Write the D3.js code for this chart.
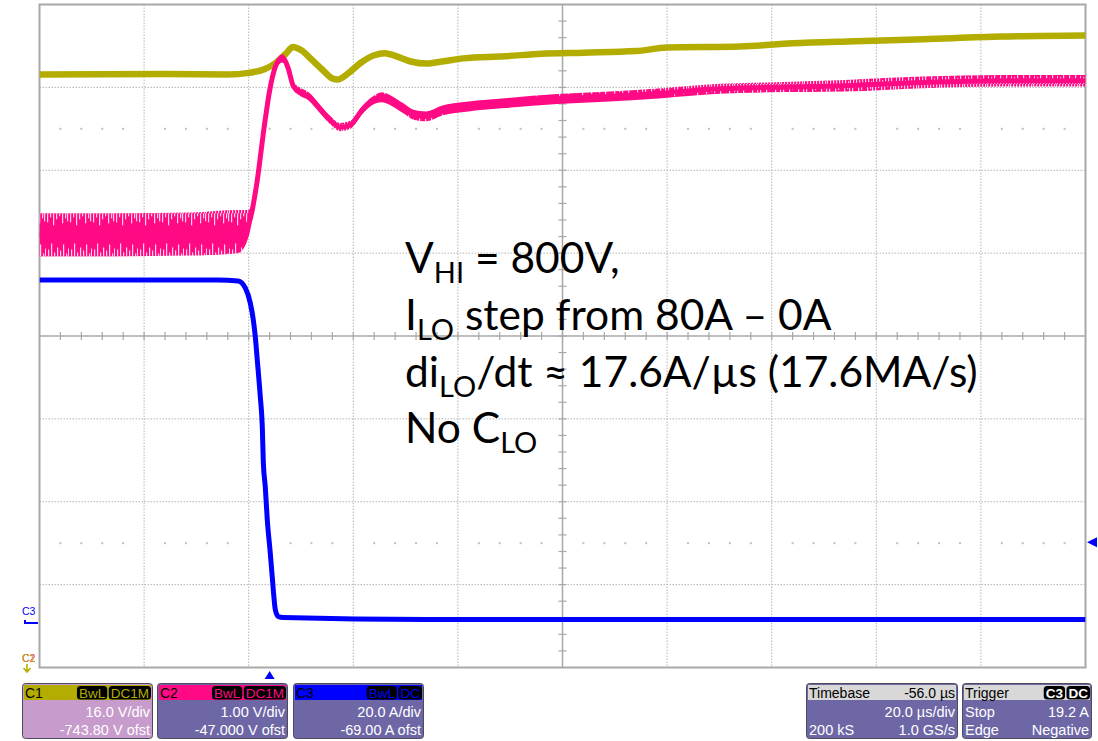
<!DOCTYPE html>
<html>
<head>
<meta charset="utf-8">
<script src="https://cdn.jsdelivr.net/npm/d3@7"></script>
<style>
  body { margin: 0; background: #fff; }
  svg { display: block; }
  .scope { font-family: "Liberation Sans", Arial, sans-serif; }
  .note { font-family: Lato, "Open Sans", sans-serif; }
</style>
</head>
<body>
<div id="chart"></div>
<script>
// time axis (µs), trigger at 0
const timeStart = -44
const timePerDiv = 20

// C1 - HV bus (V)
const c1Time = [-44, -20, -8, -4, -1, 1, 3, 4.5, 6, 8, 10, 12, 13, 15, 17.5, 20, 22, 24, 27, 30, 33, 37, 45, 52, 60, 70, 76, 90, 100, 112, 125, 140, 156]
const c1Volts = [794.3, 794.4, 794.3, 794.6, 795.3, 796.4, 798.2, 799.6, 799.0, 797.2, 795.3, 793.5, 793.3, 794.5, 796.6, 798.0, 798.4, 797.9, 796.8, 796.4, 796.8, 797.4, 797.8, 798.3, 798.5, 798.8, 799.5, 799.7, 800.3, 800.7, 801.1, 801.6, 801.8]

// C2 - LV bus (V) with noise envelope half width
const c2Time = [-44, -30, -15, -6, -4, -2.5, -1, 0, 1, 2, 2.5, 3.5, 4.5, 5.5, 7.5, 9.5, 11.5, 13.5, 15.5, 17.5, 19.5, 21.5, 23.5, 25.5, 27.5, 30, 33, 38, 45, 55, 65, 75, 85, 95, 110, 125, 140, 156]
const c2Volts = [48.22, 48.22, 48.23, 48.26, 48.36, 48.82, 49.54, 49.96, 50.23, 50.34, 50.35, 50.24, 50.02, 49.96, 49.89, 49.75, 49.61, 49.52, 49.55, 49.71, 49.83, 49.88, 49.83, 49.75, 49.67, 49.65, 49.72, 49.77, 49.81, 49.86, 49.89, 49.93, 49.98, 50.0, 50.02, 50.06, 50.08, 50.08]
const c2Noise = [0.26, 0.26, 0.26, 0.26, 0.16, 0.06, 0.05, 0.05, 0.05, 0.05, 0.05, 0.05, 0.05, 0.05, 0.05, 0.05, 0.05, 0.05, 0.05, 0.05, 0.05, 0.06, 0.06, 0.06, 0.06, 0.06, 0.06, 0.06, 0.06, 0.06, 0.06, 0.06, 0.06, 0.06, 0.07, 0.07, 0.07, 0.07]

// C3 - load current (A)
const c3Time = [-44, -10, -6, -4.65, -3.7, -3.12, -2.74, -2.36, -1.78, -1.4, -1.2, -0.83, -0.45, 0.12, 0.5, 0.7, 1.08, 1.65, 2.6, 30, 80, 156]
const c3Amps = [82.5, 82.5, 82.3, 80.6, 77.0, 72.9, 68.8, 63.2, 54.3, 47.1, 38.4, 32.6, 24.7, 16.7, 10.9, 7.8, 3.0, 1.3, 1.05, 0.6, 0.6, 0.6]

// channel settings
const chanNames = ['C1', 'C2', 'C3']
const chanColors = ['#b2ad00', '#ff0a84', '#0000ff']
const chanPerDiv = [16, 1, 20]
const chanOffset = [-743.8, -47, -69]
const chanUnits = ['V', 'V', 'A']
const chanBadges = [['BwL', 'DC1M'], ['BwL', 'DC1M'], ['BwL', 'DC']]
const triggerLevel = 19.2

const width = 1098
const height = 741
const plot = { left: 39.5, right: 1085.5, top: 4.5, bottom: 667.5 }

const svg = d3.select('#chart').append('svg')
  .attr('width', width)
  .attr('height', height)
  .attr('viewBox', `0 0 ${width} ${height}`)

const x = d3.scaleLinear()
  .domain([timeStart, timeStart + 10 * timePerDiv])
  .range([plot.left, plot.right])

// one y scale per channel, 8 divisions tall
const yScales = chanPerDiv.map((pd, i) => d3.scaleLinear()
  .domain([-chanOffset[i] - 4 * pd, -chanOffset[i] + 4 * pd])
  .range([plot.bottom, plot.top]))

const gx = d3.scaleLinear().domain([0, 10]).range([plot.left, plot.right])
const gy = d3.scaleLinear().domain([0, 8]).range([plot.top, plot.bottom])

// ---- graticule ----
const grid = svg.append('g')
const gridCol = '#b4b4b4'

d3.range(1, 10).filter(k => k !== 5).forEach(k => {
  grid.append('line')
    .attr('x1', gx(k)).attr('x2', gx(k))
    .attr('y1', plot.top).attr('y2', plot.bottom)
    .attr('stroke', gridCol).attr('stroke-dasharray', '1.5,1.5')
})
d3.range(1, 8).filter(k => k !== 4).forEach(k => {
  grid.append('line')
    .attr('x1', plot.left).attr('x2', plot.right)
    .attr('y1', gy(k)).attr('y2', gy(k))
    .attr('stroke', gridCol).attr('stroke-dasharray', '1.5,1.5')
})

// dot rows half way between some divisions
;[1.5, 6.5].forEach(r => {
  d3.range(1, 50).filter(m => m % 5 !== 0).forEach(m => {
    grid.append('rect')
      .attr('x', gx(m / 5) - 1).attr('y', gy(r) - 1)
      .attr('width', 2).attr('height', 2)
      .attr('fill', '#c0c0c0')
  })
})

// center cross with minor ticks
grid.append('line')
  .attr('x1', plot.left).attr('x2', plot.right)
  .attr('y1', gy(4)).attr('y2', gy(4))
  .attr('stroke', '#a8a8a8').attr('stroke-width', 1.5)
grid.append('line')
  .attr('x1', gx(5)).attr('x2', gx(5))
  .attr('y1', plot.top).attr('y2', plot.bottom)
  .attr('stroke', '#a8a8a8').attr('stroke-width', 1.5)
d3.range(1, 50).forEach(m => {
  grid.append('line')
    .attr('x1', gx(m / 5)).attr('x2', gx(m / 5))
    .attr('y1', gy(4) - 4).attr('y2', gy(4) + 4)
    .attr('stroke', '#a8a8a8').attr('stroke-width', 1.2)
})
d3.range(1, 40).forEach(m => {
  grid.append('line')
    .attr('x1', gx(5) - 4).attr('x2', gx(5) + 4)
    .attr('y1', gy(m / 5)).attr('y2', gy(m / 5))
    .attr('stroke', '#a8a8a8').attr('stroke-width', 1.2)
})

grid.append('rect')
  .attr('x', plot.left).attr('y', plot.top)
  .attr('width', plot.right - plot.left).attr('height', plot.bottom - plot.top)
  .attr('fill', 'none').attr('stroke', '#a8a8a8').attr('stroke-width', 2)

// ---- traces ----
const defs = svg.append('defs')

// spiky texture for the noisy band: white gaps breaking its top and bottom edges
const bandTop = yScales[1](c2Volts[0] + c2Noise[0])
const bandBot = yScales[1](c2Volts[0] - c2Noise[0])
const bandH = bandBot - bandTop
const pat = defs.append('pattern')
  .attr('id', 'noise').attr('patternUnits', 'userSpaceOnUse')
  .attr('x', 0).attr('y', bandTop)
  .attr('width', 23).attr('height', bandH)
pat.append('rect').attr('width', 23).attr('height', bandH).attr('fill', chanColors[1])
const gapsTop = [[1, 9], [4, 4], [7, 12], [10, 6], [13, 3], [16, 10], [19, 5], [21, 8]]
const gapsBot = [[2, 7], [5, 13], [8, 4], [11, 9], [14, 6], [17, 12], [20, 3], [22, 8]]
gapsTop.forEach(g => pat.append('rect').attr('x', g[0]).attr('y', 0)
  .attr('width', 1.2).attr('height', g[1]).attr('fill', '#ffd0e6'))
gapsBot.forEach(g => pat.append('rect').attr('x', g[0]).attr('y', bandH - g[1])
  .attr('width', 1.2).attr('height', g[1]).attr('fill', '#ffd0e6'))

const clip = defs.append('clipPath').attr('id', 'plotclip')
clip.append('rect')
  .attr('x', plot.left).attr('y', plot.top)
  .attr('width', plot.right - plot.left).attr('height', plot.bottom - plot.top)

const traces = svg.append('g').attr('clip-path', 'url(#plotclip)')

const c1Data = c1Time.map((t, i) => ({ t, v: c1Volts[i] }))
const c2Data = c2Time.map((t, i) => ({ t, v: c2Volts[i], n: c2Noise[i] }))
const c3Data = c3Time.map((t, i) => ({ t, v: c3Amps[i] }))

traces.append('path')
  .datum(c1Data)
  .attr('fill', 'none')
  .attr('stroke', chanColors[0])
  .attr('stroke-width', 6.5)
  .attr('stroke-linejoin', 'round')
  .attr('d', d3.line().x(d => x(d.t)).y(d => yScales[0](d.v)).curve(d3.curveMonotoneX))

traces.append('path')
  .datum(c2Data)
  .attr('fill', 'url(#noise)')
  .attr('d', d3.area().x(d => x(d.t))
    .y0(d => yScales[1](d.v - d.n))
    .y1(d => yScales[1](d.v + d.n))
    .curve(d3.curveMonotoneX))

traces.append('path')
  .datum(c2Data)
  .attr('fill', 'none')
  .attr('stroke', chanColors[1])
  .attr('stroke-width', 5)
  .attr('stroke-linejoin', 'round')
  .attr('d', d3.line().x(d => x(d.t)).y(d => yScales[1](d.v)).curve(d3.curveMonotoneX))

traces.append('path')
  .datum(c3Data)
  .attr('fill', 'none')
  .attr('stroke', chanColors[2])
  .attr('stroke-width', 5)
  .attr('stroke-linejoin', 'round')
  .attr('d', d3.line().x(d => x(d.t)).y(d => yScales[2](d.v)).curve(d3.curveMonotoneX))

// ---- markers ----
const trigX = x(0)
svg.append('path')
  .attr('d', `M${trigX - 5},${679} L${trigX + 5},${679} L${trigX},${671} Z`)
  .attr('fill', chanColors[2])
const trigY = yScales[2](triggerLevel)
svg.append('path')
  .attr('d', `M${1087},${trigY} L${1097},${trigY - 5} L${1097},${trigY + 5} Z`)
  .attr('fill', chanColors[2])

// C3 ground marker on the left
const c3Zero = yScales[2](0)
svg.append('text').attr('class', 'scope')
  .attr('x', 22).attr('y', c3Zero - 7)
  .attr('font-size', 10.5).attr('fill', chanColors[2]).text('C3')
svg.append('path')
  .attr('d', `M25,${c3Zero - 2} L25,${c3Zero + 1} L38,${c3Zero + 1}`)
  .attr('fill', 'none').attr('stroke', chanColors[2]).attr('stroke-width', 2)

svg.append('text').attr('class', 'scope')
  .attr('x', 22).attr('y', 662)
  .attr('font-size', 10.5).attr('fill', chanColors[1]).text('C2')
svg.append('text').attr('class', 'scope')
  .attr('x', 22).attr('y', 662)
  .attr('font-size', 10.5).attr('fill', chanColors[0]).text('C1')
svg.append('path')
  .attr('d', 'M27,664 L27,671 M23.5,668 L27,672 L30.5,668')
  .attr('fill', 'none').attr('stroke', chanColors[0]).attr('stroke-width', 1.6)

// ---- annotation ----
const noteLines = [
  [['V', 0], ['HI', 1], [' = 800V,', 0]],
  [['I', 0], ['LO', 1], [' step from 80A – 0A', 0]],
  [['di', 0], ['LO', 1], ['/dt ≈ 17.6A/µs (17.6MA/s)', 0]],
  [['No C', 0], ['LO', 1]]
]
const note = svg.append('text').attr('class', 'note').attr('fill', '#000')
noteLines.forEach((parts, li) => {
  let prevSub = 0
  parts.forEach((p, pi) => {
    const ts = note.append('tspan').text(p[0])
      .attr('font-size', p[1] ? 29 : 42.5)
    if (pi === 0) {
      ts.attr('x', 405).attr('y', 273 + li * 56.8)
    } else {
      ts.attr('dy', (p[1] - prevSub) * 10)
    }
    prevSub = p[1]
  })
})

// ---- info panels ----
const panelTop = 683
const panelH = 55

function panel (x0, x1, opt) {
  const g = svg.append('g').attr('class', 'scope')
  g.append('rect')
    .attr('x', x0 + 0.5).attr('y', panelTop + 0.5)
    .attr('width', x1 - x0).attr('height', panelH)
    .attr('rx', 3)
    .attr('fill', opt.body).attr('stroke', '#4c4c5c')
  g.append('rect')
    .attr('x', x0 + 2).attr('y', panelTop + 2)
    .attr('width', x1 - x0 - 3).attr('height', 15)
    .attr('fill', opt.head)
  g.append('text')
    .attr('x', x0 + 3).attr('y', panelTop + 14.5)
    .attr('font-size', 14).attr('fill', '#000')
    .text(opt.title)
  if (opt.headRight) {
    g.append('text')
      .attr('x', x1 - 2).attr('y', panelTop + 14.5)
      .attr('text-anchor', 'end')
      .attr('font-size', 14).attr('fill', '#000')
      .text(opt.headRight)
  }
  if (opt.badges) {
    let bx = x1 - 1
    opt.badges.slice().reverse().forEach(b => {
      const t = g.append('text')
        .attr('y', panelTop + 14.5)
        .attr('font-size', 13.5)
        .attr('font-weight', opt.badgeBold ? 'bold' : 'normal')
        .attr('fill', opt.badgeText)
        .text(b)
      const w = t.node().getComputedTextLength() + 4
      bx -= w
      g.insert('rect', () => t.node())
        .attr('x', bx).attr('y', panelTop + 3)
        .attr('width', w).attr('height', 13.5)
        .attr('rx', 3.5).attr('fill', '#000')
      t.attr('x', bx + 2)
      bx -= 1.5
    })
  }
  opt.rows.forEach((r, i) => {
    const yy = panelTop + 34 + i * 18
    if (r[0]) {
      g.append('text')
        .attr('x', x0 + 3).attr('y', yy)
        .attr('font-size', 14.5).attr('fill', '#fff')
        .text(r[0])
    }
    g.append('text')
      .attr('x', x1 - 2).attr('y', yy)
      .attr('text-anchor', 'end')
      .attr('font-size', 14.5).attr('fill', '#fff')
      .text(r[1])
  })
}

const panelX = [[22, 152], [157, 287], [293, 423]]
const bodyColors = ['#c79bcb', '#6e67a6', '#6e67a6']
chanNames.forEach((name, i) => {
  const perDivTxt = (i === 1 ? chanPerDiv[i].toFixed(2) : chanPerDiv[i].toFixed(1)) + ' ' + chanUnits[i] + '/div'
  const offTxt = chanOffset[i].toFixed(i === 1 ? 3 : 2) + ' ' + chanUnits[i] + ' ofst'
  panel(panelX[i][0], panelX[i][1], {
    body: bodyColors[i],
    head: chanColors[i],
    title: name,
    badges: chanBadges[i],
    badgeText: chanColors[i],
    rows: [['', perDivTxt], ['', offTxt]]
  })
})

panel(806, 957, {
  body: '#6e67a6',
  head: '#d8d8d8',
  title: 'Timebase',
  headRight: '-56.0 µs',
  rows: [['', timePerDiv.toFixed(1) + ' µs/div'], ['200 kS', '1.0 GS/s']]
})

panel(962, 1091, {
  body: '#6e67a6',
  head: '#d8d8d8',
  title: 'Trigger',
  badges: ['C3', 'DC'],
  badgeText: '#fff',
  badgeBold: true,
  rows: [['Stop', triggerLevel.toFixed(1) + ' A'], ['Edge', 'Negative']]
})
</script>
</body>
</html>
